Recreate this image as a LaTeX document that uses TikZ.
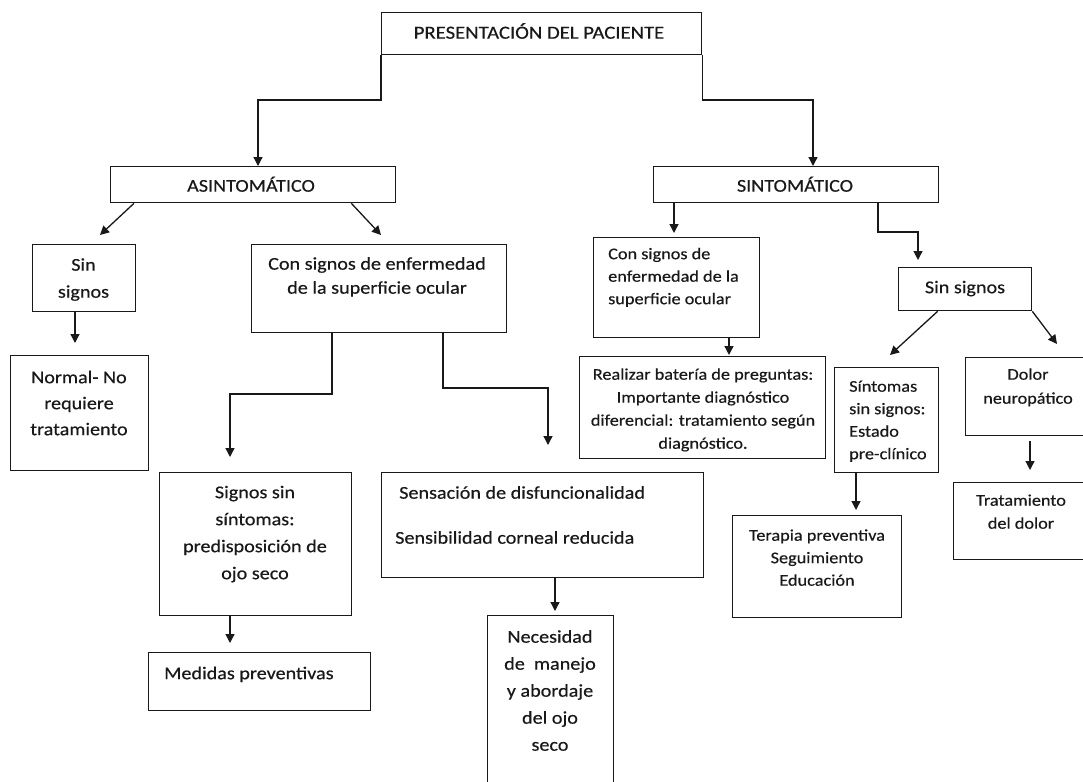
\documentclass[tikz,border=0pt]{standalone}
\usepackage{fontspec}
\setmainfont{Carlito}[FakeStretch=1.12,FakeBold=0.4]
\usetikzlibrary{arrows.meta,calc}
\newcommand{\fl}{\rule{0pt}{20pt}}
\begin{document}
\begin{tikzpicture}[x=1pt,y=-1pt,
  box/.style={draw=black!90, line width=1.3pt, rectangle, inner sep=0pt, anchor=north west},
  arr/.style={draw=black!90, line width=1.3pt, -{Triangle[length=9pt,width=9pt]}},
  tL/.style={font=\fontsize{18}{27}\selectfont, align=center, inner sep=0pt, anchor=north, text=black!90},
  tR/.style={font=\fontsize{16.3}{23}\selectfont, align=center, inner sep=0pt, anchor=north, text=black!90}]
\useasboundingbox (0,0) rectangle (1083,781);
\clip (0,0) rectangle (1083,781);
\fill[white] (0,0) rectangle (1083,781);

% boxes
\node[box, minimum width=320pt, minimum height=42pt] (top) at (381,12) {};
\node[box, minimum width=285pt, minimum height=36pt] (asin) at (110,166) {};
\node[box, minimum width=285pt, minimum height=36pt] (sint) at (653,166) {};
\node[box, minimum width=103pt, minimum height=67pt] (sinL) at (32,244) {};
\node[box, minimum width=255pt, minimum height=88pt] (conL) at (251,244) {};
\node[box, minimum width=138pt, minimum height=115pt] (normal) at (10,355) {};
\node[box, minimum width=192pt, minimum height=143pt] (signos) at (159,472) {};
\node[box, minimum width=322pt, minimum height=105pt] (sens) at (381,472) {};
\node[box, minimum width=222pt, minimum height=58pt] (medidas) at (148,652) {};
\node[box, minimum width=126pt, minimum height=200pt] (neces) at (487,615) {};
\node[box, minimum width=166pt, minimum height=100pt] (conR) at (593,237) {};
\node[box, minimum width=133pt, minimum height=43pt] (sinR) at (898,267) {};
\node[box, minimum width=246pt, minimum height=102pt] (realizar) at (579,356) {};
\node[box, minimum width=104pt, minimum height=105pt] (sintomas) at (834,367) {};
\node[box, minimum width=130pt, minimum height=78pt] (dolor) at (965,357) {};
\node[box, minimum width=140pt, minimum height=77pt] (trat) at (953,482) {};
\node[box, minimum width=169pt, minimum height=102pt] (terapia) at (732,515) {};

% texts
\node[tL, font=\fontsize{18.5}{27}\selectfont] (t-top) at (539,18.5) {\fl PRESENTACIÓN DEL PACIENTE};
\node[tL] (t-asin) at (251,171.5) {\fl ASINTOMÁTICO};
\node[tL] (t-sint) at (795,171.5) {\fl SINTOMÁTICO};
\node[tL] (t-sinL) at (83.5,250.5) {\fl Sin\\signos};
\node[tL, font=\fontsize{18}{24}\selectfont] (t-conL) at (377,249.5) {\fl Con signos de enfermedad\\de la superficie ocular};
\node[tL, font=\fontsize{18}{26}\selectfont] (t-normal) at (79,363) {\fl Normal- No\\requiere\\tratamiento};
\node[tL] (t-signos) at (255,478) {\fl Signos sin\\síntomas:\\predisposición de\\ojo seco};
\node[tL, align=left, anchor=north west] (t-sens) at (395,478.5) {\fl\hspace*{4pt}Sensación de disfuncionalidad\\[18pt]Sensibilidad corneal reducida};
\node[tL, anchor=north west] (t-medidas) at (164,659) {\fl Medidas preventivas};
\node[tL] (t-neces) at (550,622.5) {\fl Necesidad\\de~~manejo\\y abordaje\\del ojo\\seco};
\node[tL] (t-sinR) at (965,273) {\fl Sin signos};
\node[tR, font=\fontsize{16.3}{22.5}\selectfont, align=left, anchor=north west] (t-conR) at (608,239) {\fl Con signos de\\enfermedad de la\\superficie ocular};
\node[tR] (t-realizar) at (703,359.5) {\fl Realizar batería de preguntas:\\Importante diagnóstico\\diferencial: tratamiento según\\diagnóstico.};
\node[tR, font=\fontsize{16.3}{22.5}\selectfont, align=left, anchor=north west] (t-sintomas) at (849,371.5) {\fl Síntomas\\sin signos:\\Estado\\pre-clínico};
\node[tR, font=\fontsize{16.3}{24}\selectfont] (t-dolor) at (1028,359.5) {\fl Dolor\\neuropático};
\node[tR] (t-trat) at (1021,485.5) {\fl Tratamiento\\del dolor};
\node[tR, font=\fontsize{16.3}{22.5}\selectfont] (t-terapia) at (817,520.5) {\fl Terapia preventiva\\Seguimiento\\Educación};

% bend points and free ends
\coordinate (k1) at (258,100);
\coordinate (k2) at (813,100);
\coordinate (e1) at (100,235);
\coordinate (e2) at (381,235);
\coordinate (e3) at (75,343);
\coordinate (k3) at (332,394);
\coordinate (e4) at (230,457);
\coordinate (k4) at (443,388);
\coordinate (e5) at (548,445);
\coordinate (e6) at (230,643);
\coordinate (e7) at (555,611);
\coordinate (e8) at (674,233);
\coordinate (k5) at (878,232);
\coordinate (e9) at (918,260);
\coordinate (e10) at (729,355);
\coordinate (e11) at (890,355);
\coordinate (e12) at (1057,344);
\coordinate (e13) at (1030,470);
\coordinate (e14) at (856,510);

% connectors
\draw[arr] (top.south west) |- (k1) -- (k1 |- asin.north);
\draw[arr] (top.south east) |- (k2) -- (k2 |- sint.north);
\draw[arr] ([xshift=24pt]asin.south west) -- (e1);
\draw[arr] ([xshift=-45pt]asin.south east) -- (e2);
\draw[arr] (sinL.south -| e3) -- (e3);
\draw[arr] (conL.south -| k3) -- (k3) -| (e4);
\draw[arr] (conL.south -| k4) -- (k4) -| (e5);
\draw[arr] (signos.south -| e6) -- (e6);
\draw[arr] (sens.south -| e7) -- (e7);
\draw[arr] (sint.south -| e8) -- (e8);
\draw[arr] (sint.south -| k5) -- (k5) -| (e9);
\draw[arr] (conR.south -| e10) -- (e10);
\draw[arr] ([xshift=-27.5pt]sinR.south) -- (e11);
\draw[arr] (sinR.south east) -- (e12);
\draw[arr] ($(dolor.south -| e13)+(0,5)$) -- (e13);
\draw[arr] (sintomas.south -| e14) -- (e14);
\end{tikzpicture}
\end{document}
